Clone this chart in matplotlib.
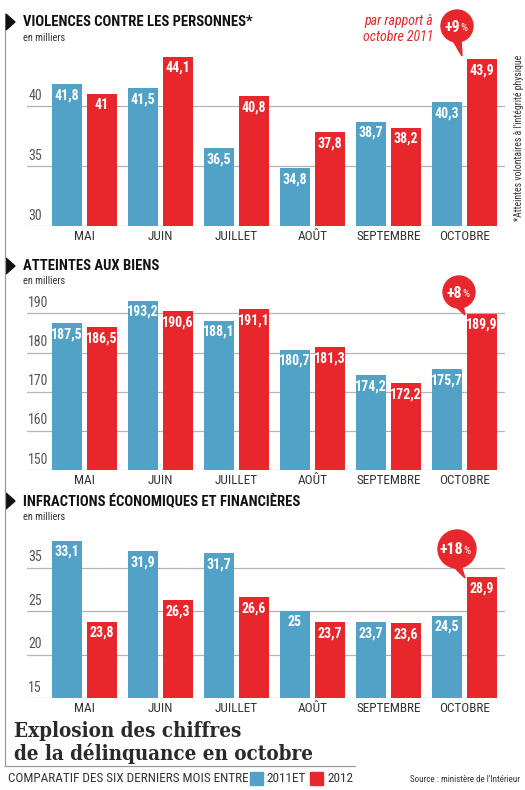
import matplotlib

matplotlib.use("Agg")

import matplotlib.pyplot as plt
import numpy as np
from matplotlib.patches import Circle, Polygon, Rectangle
from matplotlib.transforms import blended_transform_factory

months = ["MAI", "JUIN", "JUILLET", "AOÛT", "SEPTEMBRE", "OCTOBRE"]

violences_2011 = [41.8, 41.5, 36.5, 34.8, 38.7, 40.3]
violences_2012 = [41.0, 44.1, 40.8, 37.8, 38.2, 43.9]
violences_ticks = [30, 35, 40]
violences_tick_labels = ["30", "35", "40"]

biens_2011 = [187.5, 193.2, 188.1, 180.7, 174.2, 175.7]
biens_2012 = [186.5, 190.6, 191.1, 181.3, 172.2, 189.9]
biens_ticks = [150, 160, 170, 180, 190]
biens_tick_labels = ["150", "160", "170", "180", "190"]

eco_2011 = [33.1, 31.9, 31.7, 25.0, 23.7, 24.5]
eco_2012 = [23.8, 26.3, 26.6, 23.7, 23.6, 28.9]
eco_ticks = [15, 20, 25, 30]
eco_tick_labels = ["15", "20", "25", "35"]  # printed like this in the source

BLUE = "#52a2c8"
RED = "#e7272b"
GRID = "#b4b4b4"
TEXT = "#333333"
NARROW = ["Roboto Condensed", "DejaVu Sans"]

W, H = 525, 790
fig = plt.figure(figsize=(W / 100, H / 100), dpi=100)


def px_axes(left, top, right, bottom):
    return fig.add_axes([left / W, 1 - bottom / H, (right - left) / W, (bottom - top) / H])


def fmt(v):
    return f"{v:g}".replace(".", ",")


def panel(top, bottom, ymin, ymax, v2011, v2012, ticks, tick_labels):
    ax = px_axes(27, top, 505, bottom)
    x = np.arange(len(months))
    ax.bar(x - 0.23, v2011, width=0.395, color=BLUE, zorder=2)
    ax.bar(x + 0.23, v2012, width=0.395, color=RED, zorder=2)
    ax.set_xlim(-0.756, 5.534)
    ax.set_ylim(ymin, ymax)
    for t in ticks:
        ax.axhline(t, color=GRID, lw=0.9, zorder=1)
    trans = blended_transform_factory(ax.transAxes, ax.transData)
    for t, lab in zip(ticks, tick_labels):
        ax.annotate(lab, (0, t), xycoords=trans, xytext=(1, 2.5), textcoords="offset points",
                    ha="left", va="bottom", fontsize=10, color="#555555", family=NARROW)
    for xs, vals in ((x - 0.23, v2011), (x + 0.23, v2012)):
        for xi, v in zip(xs, vals):
            ax.annotate(fmt(v), (xi, v), xytext=(0, -3), textcoords="offset points",
                        ha="center", va="top", fontsize=10, color="white",
                        fontweight="bold", family=NARROW, zorder=3)
    ax.set_xticks(x)
    ax.set_xticklabels(months, fontsize=9.5, color=TEXT, family=NARROW)
    ax.tick_params(axis="x", length=0, pad=3)
    ax.set_yticks([])
    for s in ax.spines.values():
        s.set_visible(False)
    ax.patch.set_alpha(0)
    return ax


panel(40, 226, 30, 45.5, violences_2011, violences_2012, violences_ticks, violences_tick_labels)
panel(293, 470, 150, 195.2, biens_2011, biens_2012, biens_ticks, biens_tick_labels)
panel(520, 698, 15, 35.5, eco_2011, eco_2012, eco_ticks, eco_tick_labels)

# overlay in pixel coordinates for the page furniture
ov = fig.add_axes([0, 0, 1, 1], zorder=10)
ov.set_xlim(0, W)
ov.set_ylim(H, 0)
ov.axis("off")
ov.patch.set_alpha(0)

ov.plot([5, 5], [30, 766], color="#9a9a9a", lw=0.9)
ov.plot([5, 355], [766, 766], color="#9a9a9a", lw=0.9)

titles = [
    (22, "VIOLENCES CONTRE LES PERSONNES*", 38),
    (266, "ATTEINTES AUX BIENS", 281),
    (501, "INFRACTIONS ÉCONOMIQUES ET FINANCIÈRES", 517),
]
for ty, label, sy in titles:
    ov.add_patch(Polygon([[6, ty - 8], [6, ty + 8], [15, ty]], closed=True, color="#111111"))
    ov.text(23, ty, label, ha="left", va="center", fontsize=10.5, fontweight="bold",
            color="#111111", family=NARROW)
    ov.text(23, sy, "en milliers", ha="left", va="center", fontsize=7.5, color=TEXT, family=NARROW)

ov.text(433, 21, "par rapport à", ha="right", va="center", fontsize=10, color=RED,
        style="italic", family=NARROW)
ov.text(433, 37, "octobre 2011", ha="right", va="center", fontsize=10, color=RED,
        style="italic", family=NARROW)

ov.text(519, 138, "*Atteintes volontaires à l'intégrité physique", rotation=90,
        ha="center", va="center", fontsize=7, color=TEXT, family=NARROW)

badges = [
    ((457, 26), 16, (462, 56), "+9"),
    ((459, 292), 16, (465, 315), "+8"),
    ((457, 549), 19, (465, 578), "+18"),
]
for (cx, cy), r, (tx, ty), label in badges:
    ov.add_patch(Circle((cx, cy), r, color=RED))
    ov.add_patch(Polygon([[cx - 5, cy + r - 3], [cx + 4, cy + r - 2], [tx, ty]], closed=True, color=RED))
    shift = 3.3 * len(label) - 3.5
    ov.text(cx + shift, cy + 1, label, ha="right", va="center", fontsize=11.5, fontweight="bold",
            color="white", family=NARROW)
    ov.text(cx + shift, cy + 2, "%", ha="left", va="center", fontsize=8,
            color="white", family=NARROW)

ov.text(14, 731, "Explosion des chiffres", ha="left", va="center", fontsize=14.8,
        fontweight="bold", color="#2a2a2a", family="DejaVu Serif", fontstretch="condensed")
ov.text(14, 753, "de la délinquance en octobre", ha="left", va="center", fontsize=14.8,
        fontweight="bold", color="#2a2a2a", family="DejaVu Serif", fontstretch="condensed")

ov.text(8, 779, "COMPARATIF DES SIX DERNIERS MOIS ENTRE", ha="left", va="center",
        fontsize=9.5, color=TEXT, family=NARROW)
ov.add_patch(Rectangle((250, 772), 13, 13, color=BLUE))
ov.text(266, 779, "2011ET", ha="left", va="center", fontsize=9.5, color=TEXT, family=NARROW)
ov.add_patch(Rectangle((310, 772), 13, 13, color=RED))
ov.text(327, 779, "2012", ha="left", va="center", fontsize=9.5, color=TEXT, family=NARROW)
ov.text(520, 780, "Source : ministère de l'Intérieur", ha="right", va="center",
        fontsize=6.5, color=TEXT, family=NARROW)

fig.savefig("out.png", dpi=100)
